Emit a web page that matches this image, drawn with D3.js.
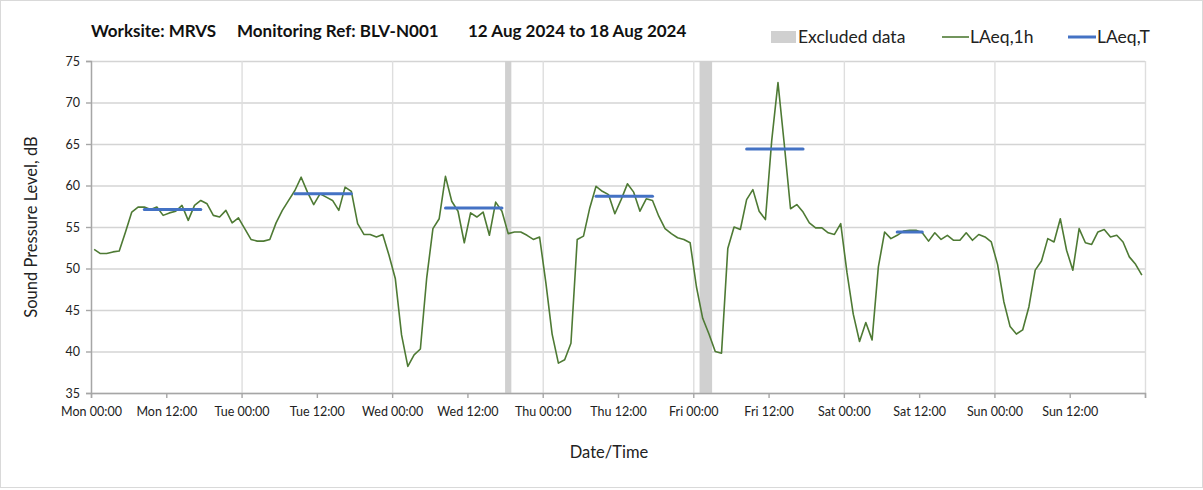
<!DOCTYPE html>
<html>
<head>
<meta charset="utf-8">
<script src="https://cdn.jsdelivr.net/npm/d3@7"></script>
<style>
    body { margin: 0; background: #fff; }
    svg { display: block; font-family: Lato, "Open Sans", sans-serif; }
</style>
</head>
<body>
<script>
    var svgWidth = 1203;
    var svgHeight = 490;

    // x ticks every 12 hours from Mon 00:00
    var tickLabels = ['Mon 00:00', 'Mon 12:00', 'Tue 00:00', 'Tue 12:00', 'Wed 00:00', 'Wed 12:00',
        'Thu 00:00', 'Thu 12:00', 'Fri 00:00', 'Fri 12:00', 'Sat 00:00', 'Sat 12:00',
        'Sun 00:00', 'Sun 12:00'];
    var yTicks = [35, 40, 45, 50, 55, 60, 65, 70, 75];

    // LAeq,1h - one value per hour, starting Mon 00:00
    var laeq1h = [
        52.3, 51.8, 51.8, 52.0, 52.1, 54.4, 56.8, 57.4, 57.4, 57.1, 57.4, 56.4,
        56.7, 56.9, 57.6, 55.8, 57.6, 58.2, 57.8, 56.4, 56.2, 57.0, 55.5, 56.1,
        54.8, 53.5, 53.3, 53.3, 53.5, 55.5, 57.0, 58.2, 59.4, 61.0, 59.2, 57.7,
        59.0, 58.6, 58.2, 57.0, 59.8, 59.3, 55.4, 54.1, 54.1, 53.8, 54.1, 51.6,
        48.8, 42.0, 38.2, 39.6, 40.3, 48.8, 54.8, 56.0, 61.1, 58.1, 56.9, 53.1,
        56.7, 56.2, 56.8, 54.0, 58.0, 56.9, 54.2, 54.4, 54.4, 54.0, 53.5, 53.8,
        48.3, 42.1, 38.6, 39.0, 41.0, 53.5, 53.9, 57.3, 59.9, 59.3, 58.9, 56.6,
        58.3, 60.2, 59.2, 56.9, 58.4, 58.2, 56.3, 54.8, 54.2, 53.7, 53.5, 53.1,
        47.8, 44.0, 42.1, 40.0, 39.8, 52.4, 55.0, 54.7, 58.3, 59.5, 56.9, 55.9,
        65.4, 72.4, 65.0, 57.2, 57.7, 56.8, 55.5, 54.9, 54.9, 54.3, 54.1, 55.4,
        49.5, 44.5, 41.2, 43.5, 41.4, 50.2, 54.4, 53.6, 54.0, 54.5, 54.6, 54.6,
        54.3, 53.3, 54.3, 53.5, 54.0, 53.4, 53.4, 54.3, 53.4, 54.1, 53.8, 53.2,
        50.5, 46.0, 43.0, 42.1, 42.6, 45.4, 49.8, 50.9, 53.6, 53.2, 56.0, 52.2,
        49.8, 54.8, 53.1, 52.9, 54.4, 54.7, 53.8, 54.0, 53.2, 51.4, 50.5, 49.2
    ];

    // LAeq,T over the working periods (first and last hour of each)
    var periodStart = [8, 32, 56, 80, 104, 128];
    var periodEnd = [17, 41, 65, 89, 113, 132];
    var laeqT = [57.1, 59.0, 57.3, 58.7, 64.4, 54.4];

    // excluded data (hours from Mon 00:00)
    var excludedStart = [66, 97];
    var excludedEnd = [67, 99];

    var margin = { top: 61, right: 58, bottom: 97, left: 91 };
    var plotW = svgWidth - margin.left - margin.right;
    var plotH = svgHeight - margin.top - margin.bottom;

    var svg = d3.select('body').append('svg')
        .attr('width', svgWidth)
        .attr('height', svgHeight);

    // outer frame
    svg.append('rect')
        .attr('x', 0.5).attr('y', 0.5)
        .attr('width', svgWidth - 1).attr('height', svgHeight - 3)
        .attr('fill', '#fff').attr('stroke', '#d9d9d9');

    var x = d3.scaleLinear().domain([0, 168]).range([0, plotW]);
    var y = d3.scaleLinear().domain([35, 75]).range([plotH, 0]);

    var g = svg.append('g').attr('transform', 'translate(' + margin.left + ',' + margin.top + ')');

    // horizontal grid
    g.append('g')
        .call(d3.axisLeft(y).tickValues(yTicks).tickSize(-plotW).tickFormat(''))
        .call(function (s) {
            s.select('.domain').remove();
            s.selectAll('line').attr('stroke', '#d4d4d4').attr('stroke-width', 1.4);
        });

    // vertical grid every 24h
    g.append('g')
        .attr('transform', 'translate(0,' + plotH + ')')
        .call(d3.axisBottom(x).tickValues(d3.range(0, 169, 24)).tickSize(-plotH).tickFormat(''))
        .call(function (s) {
            s.select('.domain').remove();
            s.selectAll('line').attr('stroke', '#dedede').attr('stroke-width', 1.4);
        });

    // excluded data bands
    g.selectAll('rect.excluded')
        .data(excludedStart)
        .enter()
        .append('rect')
        .attr('class', 'excluded')
        .attr('x', function (d) { return x(d); })
        .attr('y', 0)
        .attr('width', function (d, i) { return x(excludedEnd[i]) - x(d); })
        .attr('height', plotH)
        .attr('fill', '#d0d0d0');

    // y axis
    var yAxis = g.append('g')
        .call(d3.axisLeft(y).tickValues(yTicks).tickSize(5).tickPadding(6));
    yAxis.select('.domain').attr('stroke', '#a6a6a6').attr('stroke-width', 1.4);
    yAxis.selectAll('line').attr('stroke', '#a6a6a6').attr('stroke-width', 1.4);
    yAxis.selectAll('text').attr('font-size', 12.5).attr('fill', '#222').attr('font-family', 'Lato');

    // x axis
    var xAxis = g.append('g')
        .attr('transform', 'translate(0,' + plotH + ')')
        .call(d3.axisBottom(x).tickValues(d3.range(0, 169, 12)).tickSize(5).tickPadding(9)
            .tickFormat(function (d, i) { return tickLabels[i] || ''; }));
    xAxis.select('.domain').attr('stroke', '#a6a6a6').attr('stroke-width', 1.4);
    xAxis.selectAll('line').attr('stroke', '#a6a6a6').attr('stroke-width', 1.4);
    xAxis.selectAll('text').attr('font-size', 12.5).attr('fill', '#222').attr('font-family', 'Lato');

    // LAeq,1h line (each hourly value drawn at mid hour)
    var line = d3.line()
        .x(function (d, i) { return x(i + 0.5); })
        .y(function (d) { return y(d); });

    g.append('path')
        .datum(laeq1h)
        .attr('d', line)
        .attr('fill', 'none')
        .attr('stroke', '#4e7a34')
        .attr('stroke-width', 1.6)
        .attr('stroke-linejoin', 'round');

    // LAeq,T lines
    g.selectAll('line.laeqT')
        .data(laeqT)
        .enter()
        .append('line')
        .attr('class', 'laeqT')
        .attr('x1', function (d, i) { return x(periodStart[i] + 0.5); })
        .attr('x2', function (d, i) { return x(periodEnd[i] + 0.5); })
        .attr('y1', function (d) { return y(d); })
        .attr('y2', function (d) { return y(d); })
        .attr('stroke', '#4472c4')
        .attr('stroke-width', 3)
        .attr('stroke-linecap', 'round');

    // title
    var title = svg.append('g')
        .attr('font-weight', 'bold')
        .attr('font-size', 17)
        .attr('fill', '#111');
    title.append('text').attr('x', 91).attr('y', 37).text('Worksite: MRVS');
    title.append('text').attr('x', 237).attr('y', 37).text('Monitoring Ref: BLV-N001');
    title.append('text').attr('x', 468).attr('y', 37).text('12 Aug 2024 to 18 Aug 2024');

    // legend
    var legend = svg.append('g').attr('font-size', 17.5).attr('fill', '#222');
    legend.append('rect').attr('x', 771).attr('y', 31).attr('width', 25).attr('height', 12).attr('fill', '#d0d0d0');
    legend.append('text').attr('x', 798).attr('y', 43).text('Excluded data');
    legend.append('line').attr('x1', 942).attr('x2', 969).attr('y1', 37).attr('y2', 37)
        .attr('stroke', '#4e7a34').attr('stroke-width', 1.6);
    legend.append('text').attr('x', 970).attr('y', 43).text('LAeq,1h');
    legend.append('line').attr('x1', 1068).attr('x2', 1096).attr('y1', 37).attr('y2', 37)
        .attr('stroke', '#4472c4').attr('stroke-width', 3);
    legend.append('text').attr('x', 1097).attr('y', 43).text('LAeq,T');

    // axis titles
    svg.append('text')
        .attr('transform', 'translate(37,' + (margin.top + plotH / 2) + ') rotate(-90)')
        .attr('text-anchor', 'middle')
        .attr('font-size', 16.5)
        .attr('fill', '#222')
        .text('Sound Pressure Level, dB');

    svg.append('text')
        .attr('x', 609)
        .attr('y', 458)
        .attr('text-anchor', 'middle')
        .attr('font-size', 16.5)
        .attr('fill', '#222')
        .text('Date/Time');
</script>
</body>
</html>
